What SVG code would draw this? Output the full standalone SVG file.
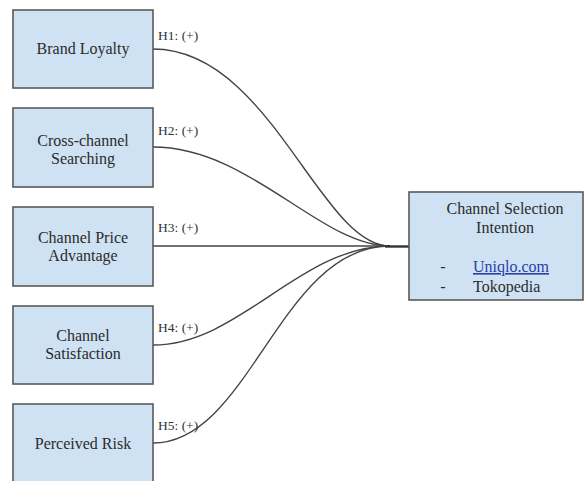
<svg xmlns="http://www.w3.org/2000/svg" width="587" height="481" viewBox="0 0 587 481">
<style>
.box{fill:#cfe2f3;stroke:#595959;stroke-width:1.6}
.t{font-family:"Liberation Serif",serif;font-size:16px;fill:#2b2b2b;text-anchor:middle}
.h{font-family:"Liberation Serif",serif;font-size:13.5px;fill:#333}
.c{fill:none;stroke:#444;stroke-width:1.4}
</style>
<rect width="587" height="481" fill="#fff"/>
<g id="connectors">
<path class="c" d="M153,49 C270,49 320,246 390,246"/>
<path class="c" d="M153,147 C250,147 320,246 390,246"/>
<path class="c" d="M153,246 L390,246"/>
<path class="c" d="M153,345 C240,345 300,246 390,246"/>
<path class="c" d="M153,443 C250,443 280,246 390,246"/>
<path d="M385,246.5 L409,246.5" stroke="#333" stroke-width="2.4"/>
<text class="h" x="158" y="40">H1: (+)</text>
<text class="h" x="158" y="135">H2: (+)</text>
<text class="h" x="158" y="232">H3: (+)</text>
<text class="h" x="158" y="332">H4: (+)</text>
<text class="h" x="158" y="430">H5: (+)</text>
</g>
<g id="brand-loyalty">
<rect class="box" x="13" y="10" width="140" height="78"/>
<text class="t" x="83" y="54">Brand Loyalty</text>
</g>
<g id="cross-channel-searching">
<rect class="box" x="13" y="108" width="140" height="79"/>
<text class="t" x="83" y="146">Cross-channel</text>
<text class="t" x="83" y="164">Searching</text>
</g>
<g id="channel-price-advantage">
<rect class="box" x="13" y="207" width="140" height="79"/>
<text class="t" x="83" y="243">Channel Price</text>
<text class="t" x="83" y="261">Advantage</text>
</g>
<g id="channel-satisfaction">
<rect class="box" x="13" y="306" width="140" height="78"/>
<text class="t" x="83" y="341">Channel</text>
<text class="t" x="83" y="359">Satisfaction</text>
</g>
<g id="perceived-risk">
<rect class="box" x="13" y="404" width="140" height="79"/>
<text class="t" x="83" y="449">Perceived Risk</text>
</g>
<g id="channel-selection-intention">
<rect class="box" x="409" y="192" width="174" height="108"/>
<text class="t" x="505" y="214">Channel Selection</text>
<text class="t" x="505" y="233">Intention</text>
<text class="t" x="443" y="272">-</text>
<text class="t" x="473" y="272" style="text-anchor:start;fill:#2a3ea6;text-decoration:underline">Uniqlo.com</text>
<text class="t" x="443" y="292">-</text>
<text class="t" x="473" y="292" style="text-anchor:start">Tokopedia</text>
</g>
</svg>
